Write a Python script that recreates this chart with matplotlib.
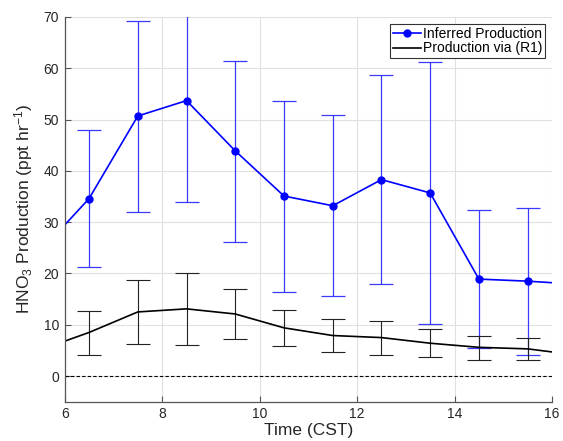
import numpy as np
import matplotlib.pyplot as plt

plt.rcParams['font.family'] = ['Liberation Sans', 'DejaVu Sans']
plt.rcParams['mathtext.fontset'] = 'custom'
plt.rcParams['mathtext.rm'] = 'Liberation Sans'
plt.rcParams['mathtext.it'] = 'Liberation Sans:italic'

# Hourly bins (CST), centred on the half hour; end bins fall outside the axes
hours = [5.5, 6.5, 7.5, 8.5, 9.5, 10.5, 11.5, 12.5, 13.5, 14.5, 15.5, 16.5]

# Inferred HNO3 production and its range
inferred = [24.3, 34.6, 50.7, 53.7, 43.9, 35.1, 33.2, 38.3, 35.7, 18.9, 18.5, 17.9]
inferred_hi = [np.nan, 48.0, 69.3, 75.0, 61.5, 53.7, 50.8, 58.6, 61.3, 32.4, 32.7, np.nan]
inferred_lo = [np.nan, 21.2, 32.0, 33.9, 26.1, 16.4, 15.6, 18.0, 10.2, 5.5, 4.2, np.nan]

# Production via (R1) and its range
r1 = [5.1, 8.5, 12.5, 13.1, 12.1, 9.4, 7.9, 7.5, 6.4, 5.6, 5.3, 4.1]
r1_hi = [np.nan, 12.7, 18.8, 20.1, 17.0, 12.9, 11.2, 10.7, 9.2, 7.9, 7.5, np.nan]
r1_lo = [np.nan, 4.2, 6.2, 6.0, 7.3, 5.8, 4.6, 4.1, 3.7, 3.1, 3.1, np.nan]

x = np.array(hours)
inf = np.array(inferred)
rr = np.array(r1)

fig = plt.figure(figsize=(5.63, 4.41), dpi=100)
ax = fig.add_axes([64.7 / 563, 1 - 401.7 / 441, (552 - 64.7) / 563, (401.7 - 17) / 441])

ax.axhline(0, color='k', ls='--', lw=0.8, dashes=(3, 2))

# error bars drawn separately from the lines
ax.errorbar(x, inf, yerr=[inf - np.array(inferred_lo), np.array(inferred_hi) - inf],
            fmt='none', ecolor='#3a3aff', elinewidth=0.9, capsize=8.3, capthick=0.9)
ax.errorbar(x, rr, yerr=[rr - np.array(r1_lo), np.array(r1_hi) - rr],
            fmt='none', ecolor='#222222', elinewidth=0.8, capsize=8.3, capthick=0.8)

ax.plot(x, inf, '-o', color='blue', lw=1.2, ms=5, label='Inferred Production')
ax.plot(x, rr, '-', color='k', lw=1.2, label='Production via (R1)')

ax.set_xlim(6, 16)
ax.set_ylim(-5, 70)
ax.set_xticks([6, 8, 10, 12, 14, 16])
ax.set_yticks(range(0, 71, 10))
ax.grid(True, color='#e0e0e0', lw=0.8)
ax.set_axisbelow(True)

for side in ['top', 'right']:
    ax.spines[side].set_visible(False)
for side in ['left', 'bottom']:
    ax.spines[side].set_color('#555555')
    ax.spines[side].set_linewidth(0.9)
ax.tick_params(direction='in', length=4, color='#555555', labelsize=10,
               labelcolor='#262626', pad=4)

ax.set_xlabel('Time (CST)', fontsize=12.5, color='#262626', labelpad=1)
ax.set_ylabel('HNO$_3$ Production (ppt hr$^{-1}$)', fontsize=12.5, color='#262626', labelpad=6)

leg = ax.legend(loc='upper right', fontsize=10, frameon=True, fancybox=False,
                edgecolor='#333333', framealpha=1, borderpad=0.2, labelspacing=0.05,
                handlelength=2.0, handletextpad=0.15, borderaxespad=0.5)
leg.get_frame().set_linewidth(0.8)

fig.savefig('out.png', dpi=100)
